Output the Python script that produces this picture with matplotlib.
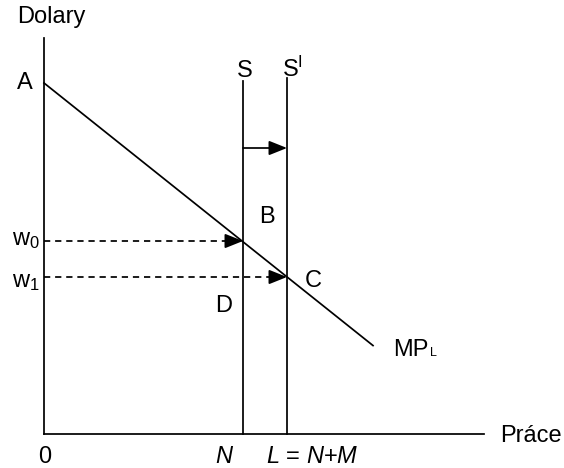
import matplotlib
matplotlib.use("Agg")
import matplotlib.pyplot as plt

plt.rcParams['font.family'] = ['Liberation Sans', 'DejaVu Sans']
plt.rcParams['mathtext.fontset'] = 'custom'
plt.rcParams['mathtext.rm'] = 'Liberation Sans'
plt.rcParams['mathtext.it'] = 'Liberation Sans:italic'

# Data (economic diagram units)
x_axis_end = 440
y_axis_top = 396
A_value = 351          # intercept of MP_L
mpl_slope = -0.798     # slope of MP_L
mpl_x_end = 329
N_value = 199
L_value = 243
w0_value = 193
w1_value = 157
S_top = 353
S1_top = 356
shift_arrow_y = 286

fig = plt.figure(figsize=(5.64, 4.68), dpi=100)
ax = fig.add_axes([0, 0, 1, 1])
ax.set_xlim(-44, 520)
ax.set_ylim(-34, 434)
ax.axis('off')

lw = 1.25
k = 'black'
# axes
ax.plot([0, 0], [0, y_axis_top], color=k, lw=lw)
ax.plot([0, x_axis_end], [0, 0], color=k, lw=lw)
# MP_L line
ax.plot([0, mpl_x_end], [A_value, A_value + mpl_slope * mpl_x_end], color=k, lw=lw)
# supply lines
ax.plot([N_value, N_value], [0, S_top], color=k, lw=lw)
ax.plot([L_value, L_value], [0, S1_top], color=k, lw=lw)

ap = dict(arrowstyle='-|>,head_length=0.55,head_width=0.22', color=k, lw=lw,
          shrinkA=0, shrinkB=0, mutation_scale=20)
# shift arrow
ax.annotate('', xy=(L_value, shift_arrow_y), xytext=(N_value, shift_arrow_y), arrowprops=ap)
# dashed wage lines
for wv, xe in [(w0_value, N_value), (w1_value, L_value)]:
    ax.plot([0, xe - 12], [wv, wv], color=k, lw=lw, dashes=(3.6, 2.8))
    ax.annotate('', xy=(xe, wv), xytext=(xe - 16, wv), arrowprops=ap)

fs = 17
ax.text(-27, 417, 'Dolary', fontsize=fs, ha='left', va='center')
ax.text(-19, 345, 'A', fontsize=fs, ha='center', va='baseline')
ax.text(N_value + 2, 357, 'S', fontsize=fs, ha='center', va='baseline')
ax.text(L_value - 5, 357, r'S$^{\mathrm{I}}$', fontsize=fs, ha='left', va='baseline')
ax.text(N_value + 24, 211, 'B', fontsize=fs, ha='center', va='baseline')
ax.text(L_value + 26, 147, 'C', fontsize=fs, ha='center', va='baseline')
ax.text(N_value - 19, 122, 'D', fontsize=fs, ha='center', va='baseline')
ax.text(mpl_x_end + 20, 78, 'MP', fontsize=fs, ha='left', va='baseline')
ax.text(mpl_x_end + 57, 78, 'L', fontsize=9, ha='left', va='baseline')
ax.text(x_axis_end + 16, -8, 'Práce', fontsize=fs, ha='left', va='baseline')
ax.text(1, -29, '0', fontsize=fs, ha='center', va='baseline')
ax.text(N_value - 19, -29, 'N', fontsize=fs, ha='center', va='baseline', style='italic')
ax.text(L_value - 21, -29, r'$L$ = $N$+$M$', fontsize=fs, ha='left', va='baseline')
ax.text(-32, 189, r'w$_0$', fontsize=fs, ha='left', va='baseline')
ax.text(-32, 147, r'w$_1$', fontsize=fs, ha='left', va='baseline')

fig.savefig('out.png', dpi=100)
